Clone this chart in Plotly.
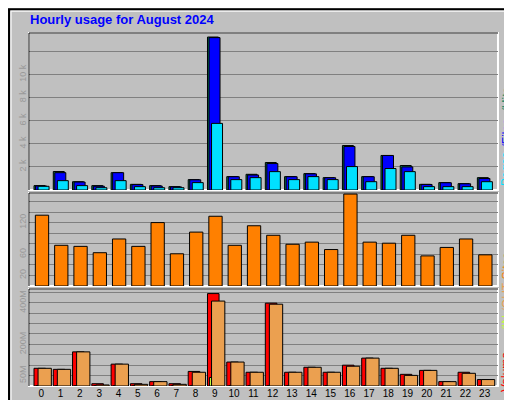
import plotly.graph_objects as go

hours = list(range(24))
hour_labels = [str(h) for h in hours]
hits = [380,1600,720,380,1500,490,380,290,900,13250,1160,1360,2380,1160,1420,1070,3850,1160,2990,2120,490,640,550,1070]
files = [350,1500,690,330,1500,470,350,270,880,13200,1150,1300,2290,1150,1400,1060,3770,1150,2990,2000,480,630,540,1000]
pages = [320,810,380,200,810,290,200,200,640,5770,900,1070,1590,900,1160,900,2030,720,1860,1590,290,290,290,720]
sites = [134,77,75,63,89,75,120,61,102,132,77,114,96,79,83,69,174,83,81,96,57,73,89,59]
volume = [85,80,164,11,105,11,21,11,70,444,115,66,398,66,90,66,100,134,85,56,75,21,66,31]
vol_in = [1,1,1,0.5,1,0.5,0.5,0.5,1,41,1,1,1,1,1,1,1,1,1,1,1,0.5,1,0.5]
vol_out = [85,80,164,5,105,8,21,8,66,408,115,66,393,66,90,66,95,134,85,51,75,21,61,31]

fig = go.Figure()
def bar(y, color, off, w, ax, lw=1):
    fig.add_trace(go.Bar(x=hours, y=y, offset=off, width=w, marker=dict(color=color, line=dict(color="black", width=lw)),
                         xaxis=ax[0], yaxis=ax[1], showlegend=False, hoverinfo="skip"))
bar(hits, "#00805c", -0.38, 0.57, ("x", "y"))
bar(files, "#0000ff", -0.3, 0.57, ("x", "y"))
bar(pages, "#00e0ff", -0.17, 0.57, ("x", "y"))
bar(sites, "#ff8000", -0.31, 0.69, ("x2", "y2"))
bar(volume, "#ff0000", -0.38, 0.6, ("x3", "y3"))
bar(vol_in, "#c0ff40", -0.28, 0.5, ("x3", "y3"))
bar(vol_out, "#eba050", -0.17, 0.69, ("x3", "y3"))

xr = [-0.64, 23.69]
xd = [0.041, 0.957]
gray = "#808080"
common_y = dict(gridcolor=gray, gridwidth=1, zeroline=False, showline=False, tickangle=-90,
                tickfont=dict(family="Liberation Sans, Arial", size=9, color="#999999"), ticks="")
common_x = dict(range=xr, domain=xd, showgrid=False, zeroline=False, showticklabels=False, fixedrange=True)
fig.update_layout(
    width=512, height=400, margin=dict(l=0, r=0, t=0, b=0),
    paper_bgcolor="#c0c0c0", plot_bgcolor="#c0c0c0", barmode="overlay",
    xaxis=dict(**common_x, anchor="y"),
    xaxis2=dict(**common_x, anchor="y2"),
    xaxis3=dict(range=xr, domain=xd, showgrid=False, zeroline=False, anchor="y3", tickvals=hours, ticktext=hour_labels,
                tickfont=dict(family="Liberation Sans, Arial", size=10, color="black"), ticks=""),
    yaxis=dict(**common_y, domain=[0.545, 0.9375], range=[0, 13600], tickvals=[2000,4000,6000,8000,10000,12000],
               ticktext=["2 k","4 k","6 k","8 k","10 k",""]),
    yaxis2=dict(**common_y, domain=[0.305, 0.5375], range=[0, 176], tickvals=[20,40,60,80,100,120,140,160],
                ticktext=["20","","60","","","120","",""]),
    yaxis3=dict(**common_y, domain=[0.055, 0.2975], range=[0, 466], tickvals=[50,100,150,200,250,300,350,400,450],
                ticktext=["50M","","","200M","","","","400M",""]),
    font=dict(family="Liberation Sans, Arial"),
)
shapes = [
    dict(type="rect", xref="paper", yref="paper", x0=0.002, y0=0.003, x1=0.998, y1=0.997, line=dict(color="black", width=2)),
    dict(type="rect", xref="paper", yref="paper", x0=0.006, y0=0.008, x1=0.994, y1=0.992, line=dict(color="white", width=1)),
]
for d in [(0.545, 0.9375), (0.305, 0.5375), (0.055, 0.2975)]:
    shapes.append(dict(type="rect", xref="paper", yref="paper", x0=xd[0], x1=xd[1], y0=d[0], y1=d[1],
                       line=dict(color="white", width=2), layer="below"))
    shapes.append(dict(type="path", xref="paper", yref="paper",
                       path=f"M {xd[0]},{d[0]} L {xd[0]},{d[1]} L {xd[1]},{d[1]}", line=dict(color="black", width=1)))
fig.update_layout(shapes=shapes)

ann = [dict(text="<b>Hourly usage for August 2024</b>", x=0.039, y=0.995, xanchor="left", yanchor="top",
            font=dict(size=13, color="#0000ff"))]
# vertical side labels: (text, color, bottom y in image px)
side = [("Pages", "#00e0ff", 180), ("/Files", "#0000ff", 142), ("/Hits_", "#00805c", 106),
        ("Sites", "#ff8000", 274),
        ("Volume", "#ff0000", 386), ("/IN", "#c0ff40", 325), ("/OUT", "#eba050", 306)]
for t, c, yb in side:
    ann.append(dict(text=t, x=498 / 512, y=1 - yb / 400, xanchor="center", yanchor="bottom", textangle=-90,
                    font=dict(size=12, color=c)))
for a in ann:
    a.update(xref="paper", yref="paper", showarrow=False)
fig.update_layout(annotations=ann)
fig.write_html("out.html")
